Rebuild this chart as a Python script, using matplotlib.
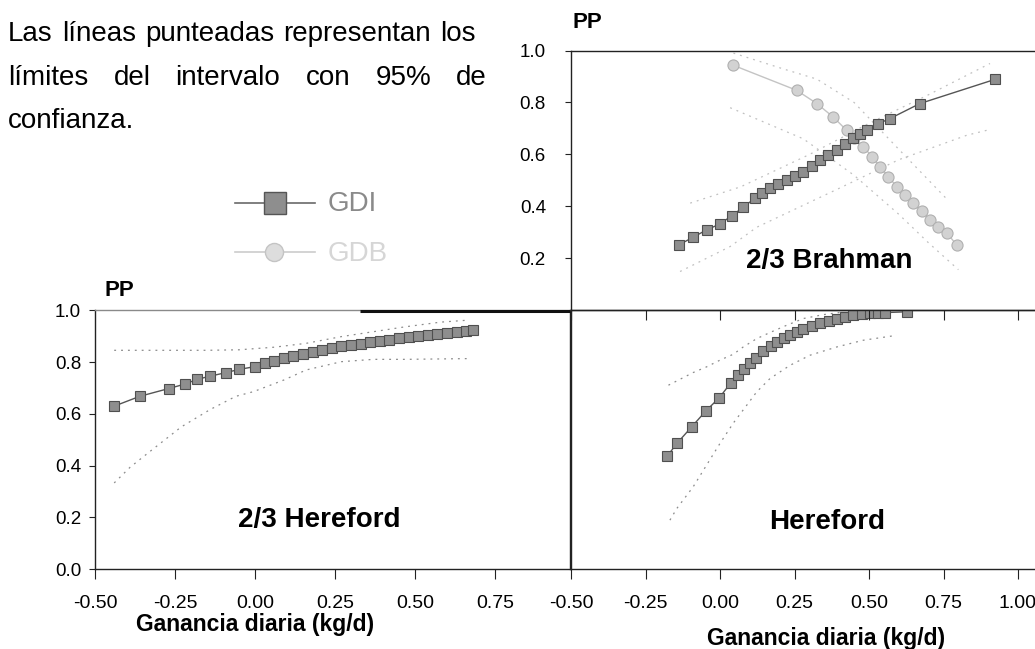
import matplotlib
matplotlib.use("Agg")
import matplotlib.pyplot as plt

plt.rcParams['font.family'] = ['Liberation Sans', 'DejaVu Sans']
plt.rcParams['axes.unicode_minus'] = False

# ---------------- data ----------------
# 2/3 Hereford (bottom-left)
h23_x = [-0.44, -0.36, -0.27, -0.22, -0.18, -0.14, -0.09, -0.05, 0.00, 0.03, 0.06, 0.09,
         0.12, 0.15, 0.18, 0.21, 0.24, 0.27, 0.30, 0.33, 0.36, 0.39, 0.42, 0.45, 0.48,
         0.51, 0.54, 0.57, 0.60, 0.63, 0.66, 0.68]
h23_y = [0.630, 0.668, 0.698, 0.715, 0.734, 0.746, 0.760, 0.772, 0.783, 0.795, 0.806, 0.815,
         0.824, 0.832, 0.840, 0.847, 0.854, 0.861, 0.867, 0.872, 0.877, 0.882, 0.887, 0.892,
         0.897, 0.901, 0.905, 0.909, 0.913, 0.918, 0.921, 0.925]
h23_up_x = [-0.44, -0.30, -0.15, -0.05, 0.06, 0.16, 0.27, 0.37, 0.47, 0.58, 0.67]
h23_up_y = [0.846, 0.846, 0.846, 0.848, 0.858, 0.873, 0.899, 0.918, 0.937, 0.955, 0.963]
h23_lo_x = [-0.44, -0.39, -0.33, -0.23, -0.14, -0.06, -0.005, 0.09, 0.16, 0.27, 0.37, 0.47, 0.67]
h23_lo_y = [0.333, 0.394, 0.453, 0.550, 0.617, 0.668, 0.686, 0.731, 0.770, 0.802, 0.811, 0.811, 0.814]

# Hereford (bottom-right)
her_x = [-0.177, -0.143, -0.095, -0.047, -0.002, 0.037, 0.06, 0.08, 0.10, 0.12, 0.145, 0.17,
         0.19, 0.215, 0.235, 0.26, 0.28, 0.31, 0.336, 0.365, 0.392, 0.42, 0.447, 0.475,
         0.503, 0.53, 0.555, 0.627]
her_y = [0.437, 0.488, 0.550, 0.612, 0.663, 0.721, 0.752, 0.775, 0.797, 0.818, 0.843, 0.864,
         0.878, 0.895, 0.906, 0.918, 0.928, 0.941, 0.951, 0.960, 0.968, 0.975, 0.981, 0.985,
         0.989, 0.991, 0.992, 0.995]
her_up_x = [-0.173, -0.134, -0.09, -0.045, 0.0, 0.045, 0.078, 0.123, 0.168, 0.224, 0.28, 0.347, 0.414]
her_up_y = [0.711, 0.734, 0.760, 0.782, 0.808, 0.831, 0.859, 0.891, 0.915, 0.943, 0.969, 0.984, 0.994]
her_lo_x = [-0.168, -0.145, -0.09, -0.045, 0.0, 0.045, 0.09, 0.123, 0.168, 0.235, 0.302, 0.392, 0.481, 0.593]
her_lo_y = [0.189, 0.234, 0.318, 0.402, 0.486, 0.565, 0.634, 0.685, 0.737, 0.788, 0.827, 0.859, 0.885, 0.904]

# 2/3 Brahman (top-right)
bra_gdi_x = [-0.137, -0.09, -0.045, 0.0, 0.039, 0.078, 0.117, 0.14, 0.168, 0.196, 0.224, 0.252,
             0.28, 0.308, 0.336, 0.364, 0.392, 0.42, 0.447, 0.47, 0.492, 0.53, 0.57, 0.671, 0.923]
bra_gdi_y = [0.253, 0.282, 0.310, 0.333, 0.364, 0.397, 0.432, 0.452, 0.470, 0.486, 0.502, 0.518,
             0.534, 0.556, 0.579, 0.598, 0.617, 0.640, 0.662, 0.680, 0.696, 0.718, 0.738, 0.796, 0.889]
bra_gdi_up_x = [-0.10, 0.07, 0.30, 0.50, 0.70, 0.906]
bra_gdi_up_y = [0.413, 0.476, 0.600, 0.720, 0.830, 0.950]
bra_gdi_lo_x = [-0.134, 0.034, 0.123, 0.40, 0.60, 0.828, 0.895]
bra_gdi_lo_y = [0.150, 0.246, 0.320, 0.470, 0.580, 0.674, 0.693]

bra_gdb_x = [0.045, 0.257, 0.325, 0.38, 0.425, 0.45, 0.481, 0.51, 0.537, 0.565, 0.593, 0.62,
             0.649, 0.677, 0.705, 0.733, 0.761, 0.794]
bra_gdb_y = [0.943, 0.847, 0.796, 0.744, 0.693, 0.662, 0.630, 0.592, 0.553, 0.515, 0.476, 0.445,
             0.413, 0.381, 0.349, 0.323, 0.298, 0.253]
bra_gdb_up_x = [0.045, 0.21, 0.325, 0.45, 0.60, 0.76]
bra_gdb_up_y = [0.990, 0.930, 0.890, 0.800, 0.620, 0.430]
bra_gdb_lo_x = [0.034, 0.28, 0.45, 0.60, 0.70, 0.80]
bra_gdb_lo_y = [0.780, 0.660, 0.520, 0.370, 0.260, 0.157]

x_ticks = [-0.50, -0.25, 0.00, 0.25, 0.50, 0.75, 1.00]
y_ticks = [0.0, 0.2, 0.4, 0.6, 0.8, 1.0]
panel_labels = ["2/3 Brahman", "2/3 Hereford", "Hereford"]
series_names = ["GDI", "GDB"]
xlabel = "Ganancia diaria (kg/d)"
ylabel = "PP"
note_lines = [["Las", "líneas", "punteadas", "representan", "los"],
              ["límites", "del", "intervalo", "con", "95%", "de"],
              ["confianza."]]

# ---------------- styles ----------------
W, H = 1035, 649
fig = plt.figure(figsize=(W / 100, H / 100), dpi=100)


def rect(x0, y0, x1, y1):
    return [x0 / W, 1 - y1 / H, (x1 - x0) / W, (y1 - y0) / H]


GDI = dict(color='#555555', lw=1.0, marker='s', ms=7.5, mfc='#8e8e8e', mec='#4f4f4f', mew=0.8, zorder=4)
GDB = dict(color='#c4c4c4', lw=1.0, marker='o', ms=8, mfc='#d2d2d2', mec='#b0b0b0', mew=0.8, zorder=3)
CI = dict(color='#8c8c8c', lw=0.9, ls=(0, (1.5, 4)), zorder=2)
CI2 = dict(color='#c0c0c0', lw=0.9, ls=(0, (1.5, 4)), zorder=2)
spine_c = '#222222'

ax_bl = fig.add_axes(rect(95, 310.5, 570, 569))
ax_br = fig.add_axes(rect(571, 310.5, 1035, 569))
ax_tr = fig.add_axes(rect(571, 50.5, 1035, 310.5))

ax_bl.set_xlim(-0.5, -0.5 + 475 / 320)
ax_br.set_xlim(-0.5, -0.5 + 464 / 298)
ax_tr.set_xlim(-0.5, -0.5 + 464 / 298)
for ax in (ax_bl, ax_br, ax_tr):
    ax.set_ylim(0, 1)
    ax.patch.set_alpha(0)
    for s in ax.spines.values():
        s.set_color(spine_c)
        s.set_linewidth(1.0)
ax_bl.spines['top'].set_color('#8a8a8a')

# bottom-left
ax_bl.plot(h23_up_x, h23_up_y, **CI)
ax_bl.plot(h23_lo_x, h23_lo_y, **CI)
ax_bl.plot(h23_x, h23_y, **GDI)
ax_bl.set_xticks(x_ticks[:-1])
ax_bl.set_xticklabels([f"{v:.2f}" for v in x_ticks[:-1]])
ax_bl.set_yticks(y_ticks)
ax_bl.set_yticklabels([f"{v:.1f}" for v in y_ticks])
ax_bl.tick_params(axis='x', direction='out', length=7, labelsize=14, pad=12, color=spine_c)
ax_bl.tick_params(axis='y', direction='out', length=4, labelsize=13.5, pad=6, color=spine_c)

# bottom-right
ax_br.plot(her_up_x, her_up_y, **CI)
ax_br.plot(her_lo_x, her_lo_y, **CI)
ax_br.plot(her_x, her_y, **GDI)
ax_br.set_xticks(x_ticks)
ax_br.set_xticklabels([f"{v:.2f}" for v in x_ticks])
ax_br.set_yticks([])
ax_br.spines['right'].set_visible(False)
ax_br.tick_params(axis='x', direction='out', length=7, labelsize=14, pad=12, color=spine_c)

# top-right
ax_tr.plot(bra_gdi_up_x, bra_gdi_up_y, **CI2)
ax_tr.plot(bra_gdi_lo_x, bra_gdi_lo_y, **CI2)
ax_tr.plot(bra_gdb_up_x, bra_gdb_up_y, **CI2)
ax_tr.plot(bra_gdb_lo_x, bra_gdb_lo_y, **CI2)
ax_tr.plot(bra_gdb_x, bra_gdb_y, **GDB)
ax_tr.plot(bra_gdi_x, bra_gdi_y, **GDI)
ax_tr.set_xticks(x_ticks)
ax_tr.set_xticklabels([])
ax_tr.set_yticks(y_ticks[1:])
ax_tr.set_yticklabels([f"{v:.1f}" for v in y_ticks[1:]])
ax_tr.spines['right'].set_visible(False)
ax_tr.tick_params(axis='x', direction='out', length=7, color=spine_c)
ax_tr.tick_params(axis='y', direction='out', length=4, labelsize=13.5, pad=14, color=spine_c)

# overlay in pixel coordinates for free text & legend
ov = fig.add_axes([0, 0, 1, 1], zorder=10)
ov.set_xlim(0, W)
ov.set_ylim(H, 0)
ov.axis('off')
ov.patch.set_alpha(0)

ov.text(829, 261, panel_labels[0], fontsize=20, fontweight='bold', ha='center', va='center')
ov.text(319, 520, panel_labels[1], fontsize=20, fontweight='bold', ha='center', va='center')
ov.text(827, 522, panel_labels[2], fontsize=20, fontweight='bold', ha='center', va='center')
ov.text(255, 625, xlabel, fontsize=16.5, fontweight='bold', ha='center', va='center')
ov.text(826, 638, xlabel, fontsize=16.5, fontweight='bold', ha='center', va='center')
ov.text(105, 290, ylabel, fontsize=16, fontweight='bold', ha='left', va='center')
ov.text(572, 23, ylabel, fontsize=16, fontweight='bold', ha='left', va='center')

# thick segment on the top border of the lower-left panel (as in the scan)
ov.plot([360, 570], [310.5, 310.5], color='#111111', lw=2.2, solid_capstyle='butt')

# legend
ov.plot([235, 315], [203, 203], color='#6a6a6a', lw=1.2)
ov.plot([275], [203], marker='s', ms=16, mfc='#8e8e8e', mec='#555555', mew=1.0)
ov.text(328, 204, series_names[0], fontsize=20, color='#8a8a8a', ha='left', va='center')
ov.plot([235, 315], [252, 252], color='#cccccc', lw=1.2)
ov.plot([274], [252], marker='o', ms=13, mfc='#dddddd', mec='#c4c4c4', mew=1.0)
ov.text(328, 254, series_names[1], fontsize=20, color='#d6d6d6', ha='left', va='center')

# justified note text
renderer = fig.canvas.get_renderer()
line_y = [41, 85, 128]
line_x = [(8, 476), (8, 487), None]
for words, y, span in zip(note_lines, line_y, line_x):
    if span is None:
        ov.text(8, y, " ".join(words), fontsize=20, ha='left', va='baseline')
        continue
    arts = [ov.text(0, y, w, fontsize=20, ha='left', va='baseline') for w in words]
    widths = [a.get_window_extent(renderer).width for a in arts]
    gap = (span[1] - span[0] - sum(widths)) / (len(words) - 1)
    x = span[0]
    for a, w in zip(arts, widths):
        a.set_x(x)
        x += w + gap

fig.savefig("out.png", dpi=100)
